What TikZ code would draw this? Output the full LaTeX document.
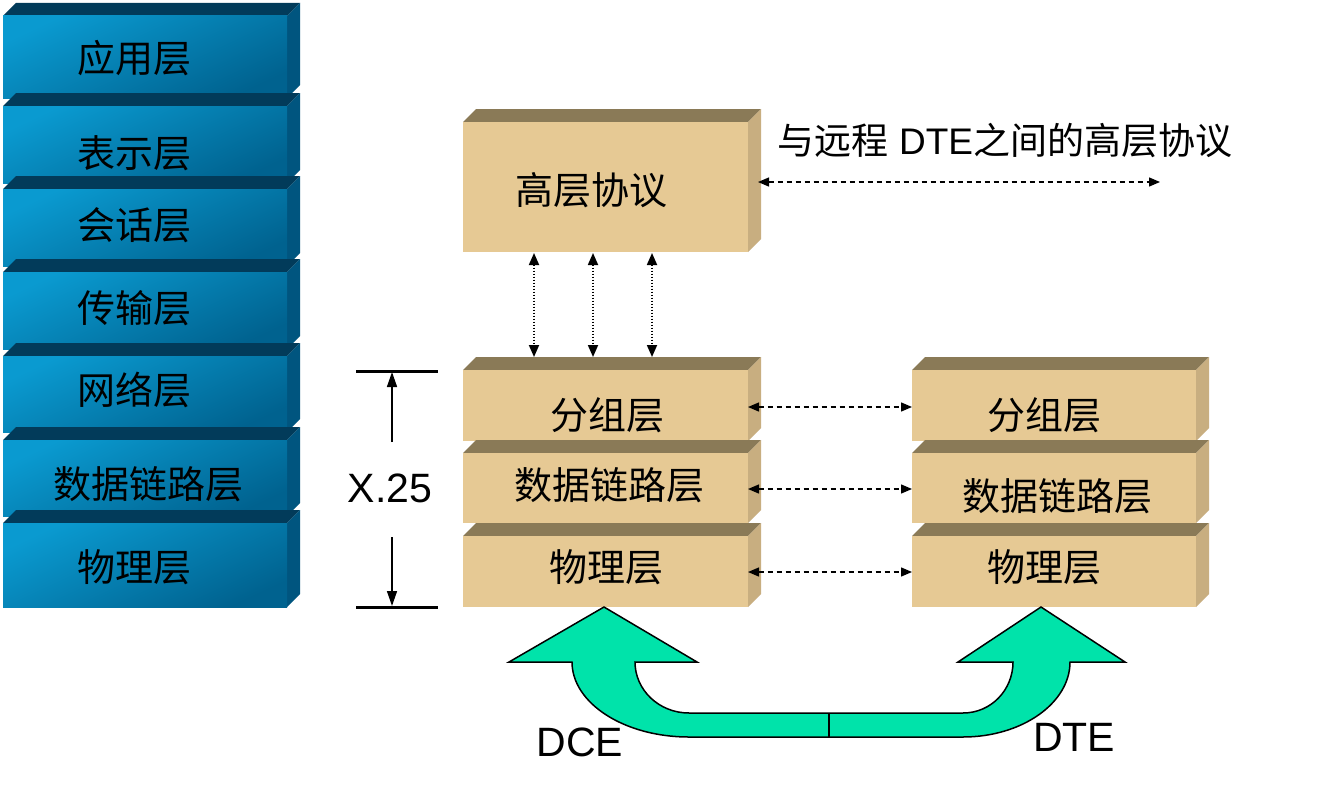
\documentclass[tikz,border=0pt]{standalone}
\usepackage{fontspec}
\setmainfont{Liberation Sans}
\newfontfamily\cjk{Noto Sans CJK SC}
\usetikzlibrary{arrows.meta}
\definecolor{bluetop}{HTML}{023B5A}
\definecolor{blueside}{HTML}{00557F}
\definecolor{blueA}{HTML}{0A9AD0}
\definecolor{blueB}{HTML}{00628F}
\definecolor{tantop}{HTML}{8A7A57}
\definecolor{tanfront}{HTML}{E6C994}
\definecolor{tanside}{HTML}{C8AE80}
\definecolor{mint}{HTML}{00E3AA}
\newcommand\bluebox[2]{%
  \fill[bluetop] (3,#1+13) -- (16,#1) -- (300,#1) -- (287,#1+13) -- cycle;
  \fill[blueside] (287,#1+13) -- (300,#1) -- (300,#2-13) -- (287,#2) -- cycle;
  \shade[top color=blueA, bottom color=blueB, shading angle=25] (3,#1+13) rectangle (287,#2);
}
\newcommand\tanbox[4]{% x1 x2 T B
  \fill[tantop] (#1,#3+13) -- (#1+13,#3) -- (#2+13,#3) -- (#2,#3+13) -- cycle;
  \fill[tanside] (#2,#3+13) -- (#2+13,#3) -- (#2+13,#4-13) -- (#2,#4) -- cycle;
  \fill[tanfront] (#1,#3+13) rectangle (#2,#4);
}
\begin{document}
\begin{tikzpicture}[x=1pt,y=-1pt,
  cj/.style={font=\cjk\fontsize{38}{40}\selectfont, inner sep=0pt, anchor=center},
  lat/.style={font=\fontsize{41}{44}\selectfont, inner sep=0pt, anchor=center},
  dasharrow/.style={{Triangle[length=11pt,width=9pt]}-{Triangle[length=11pt,width=9pt]}, line width=1.3pt, dash pattern=on 5pt off 4pt},
  dotarrow/.style={{Triangle[length=12pt,width=10pt]}-{Triangle[length=12pt,width=10pt]}, line width=1.8pt, dash pattern=on 1.5pt off 1.5pt},
  dimarrow/.style={-{Triangle[length=15pt,width=10pt]}, line width=1.5pt},
  dimbar/.style={line width=3pt},
  uarrow/.style={fill=mint, draw=black, line width=1.5pt, line join=miter}
]
\useasboundingbox (0,0) rectangle (1337,792);
\fill[white] (0,0) rectangle (1337,792);

% OSI stack
\bluebox{3}{98}
\bluebox{93}{183}
\bluebox{176}{266}
\bluebox{259}{349}
\bluebox{343}{432}
\bluebox{427}{516}
\bluebox{510}{607}
\node[cj] (o1) at (134,58) {应用层};
\node[cj] (o2) at (134,153) {表示层};
\node[cj] (o3) at (134,225) {会话层};
\node[cj] (o4) at (134,308) {传输层};
\node[cj] (o5) at (134,390) {网络层};
\node[cj] (o6) at (148,484) {数据链路层};
\node[cj] (o7) at (134,567) {物理层};

% high layer
\tanbox{463}{748}{109}{252}
\node[cj] (hl) at (591,190) {高层协议};

% left X.25 stack
\tanbox{463}{748}{357}{441}
\tanbox{463}{748}{440}{523}
\tanbox{463}{748}{523}{607}
\node[cj] (l1) at (607,415) {分组层};
\node[cj] (l2) at (609,485) {数据链路层};
\node[cj] (l3) at (606,567) {物理层};

% right stack
\tanbox{912}{1196}{357}{441}
\tanbox{912}{1196}{440}{523}
\tanbox{912}{1196}{523}{607}
\node[cj] (r1) at (1044,415) {分组层};
\node[cj] (r2) at (1057,496) {数据链路层};
\node[cj] (r3) at (1044,567) {物理层};

% header
\node[inner sep=0pt, anchor=center, font=\fontsize{37}{40}\selectfont] (hd) at (1005,141)
  {{\cjk 与远程}~DTE{\cjk 之间的高层协议}};

% coordinates for connectors
\coordinate (hA) at (758,182);  \coordinate (hB) at (1160,182);
\coordinate (d1a) at (748,407); \coordinate (d1b) at (912,407);
\coordinate (d2a) at (748,489); \coordinate (d2b) at (912,489);
\coordinate (d3a) at (748,572); \coordinate (d3b) at (912,572);
\coordinate (v1a) at (534,253); \coordinate (v1b) at (534,357);
\coordinate (v2a) at (593,253); \coordinate (v2b) at (593,357);
\coordinate (v3a) at (652,253); \coordinate (v3b) at (652,357);
\coordinate (xt1) at (356,371); \coordinate (xt2) at (438,371);
\coordinate (xb1) at (356,607); \coordinate (xb2) at (438,607);
\coordinate (xu0) at (392,442); \coordinate (xu1) at (392,372);
\coordinate (xd0) at (392,537); \coordinate (xd1) at (392,606);

\draw[dasharrow] (hA) -- (hB);
\draw[dasharrow] (d1a) -- (d1b);
\draw[dasharrow] (d2a) -- (d2b);
\draw[dasharrow] (d3a) -- (d3b);
\draw[dotarrow] (v1a) -- (v1b);
\draw[dotarrow] (v2a) -- (v2b);
\draw[dotarrow] (v3a) -- (v3b);

% X.25 dimension
\draw[dimbar] (xt1) -- (xt2);
\draw[dimbar] (xb1) -- (xb2);
\draw[dimarrow] (xu0) -- (xu1);
\draw[dimarrow] (xd0) -- (xd1);
\node[lat] (x25) at (390,488) {X.25};

% U arrow
\draw[uarrow] (604,607) -- (697,662) -- (635,662)
  .. controls (635,690) and (659,713) .. (689,713)
  -- (963,713)
  .. controls (991,713) and (1013,690) .. (1013,662)
  -- (958,662) -- (1041,607) -- (1125,662) -- (1070,662)
  .. controls (1070,703) and (1022,737) .. (963,737)
  -- (689,737)
  .. controls (624,737) and (572,703) .. (572,662)
  -- (509,662) -- cycle;
\coordinate (m1) at (829,713); \coordinate (m2) at (829,737);
\draw[line width=1.5pt] (m1) -- (m2);

\node[lat] (dce) at (580,742) {DCE};
\node[lat] (dte) at (1074,737) {DTE};
\end{tikzpicture}
\end{document}
